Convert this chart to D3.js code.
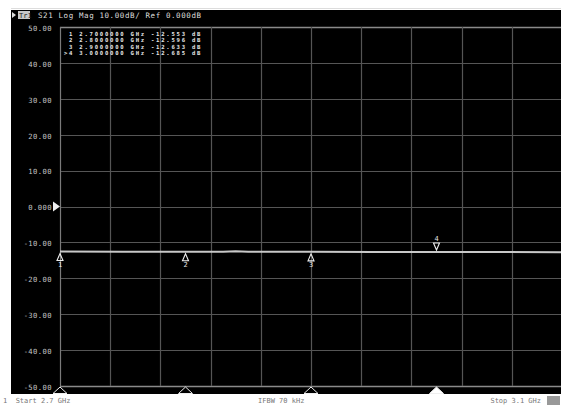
<!DOCTYPE html>
<html>
<head>
<meta charset="utf-8">
<script src="https://cdn.jsdelivr.net/npm/d3@7"></script>
<style>
  html, body { margin: 0; padding: 0; background: #fff; overflow: hidden; }
  svg { display: block; }
  text { font-family: "DejaVu Sans Mono", monospace; }
</style>
</head>
<body>
<div id="chart"></div>
<script>
// trace S21 (GHz, dB)
var traceFreq = [2.7, 2.75, 2.8, 2.83, 2.84, 2.85, 2.9, 2.95, 3.0, 3.05, 3.1];
var traceDb = [-12.553, -12.57, -12.596, -12.61, -12.45, -12.61, -12.633, -12.66, -12.685, -12.70, -12.72];

// markers
var markerIds = ["1", "2", "3", "4"];
var markerFreq = [2.7, 2.8, 2.9, 3.0];
var markerDb = [-12.553, -12.596, -12.633, -12.685];
var activeMarker = "4";

var yTicks = [50, 40, 30, 20, 10, 0, -10, -20, -30, -40, -50];
var yTickLabels = ["50.00", "40.00", "30.00", "20.00", "10.00", "0.000", "-10.00", "-20.00", "-30.00", "-40.00", "-50.00"];
var xTicks = [2.7, 2.74, 2.78, 2.82, 2.86, 2.9, 2.94, 2.98, 3.02, 3.06, 3.1];

var titleText = "S21 Log Mag 10.00dB/ Ref 0.000dB";
var statusLeft = "1  Start 2.7 GHz";
var statusMid = "IFBW 70 kHz";
var statusRight = "Stop 3.1 GHz";

var W = 561, H = 406;
var svg = d3.select("#chart").append("svg")
    .attr("width", W)
    .attr("height", H);

var x = d3.scaleLinear().domain([2.7, 3.1]).range([60, 562]);
var y = d3.scaleLinear().domain([-50, 50]).range([386, 27]);

// screen background
svg.append("rect").attr("x", 0).attr("y", 0).attr("width", W).attr("height", H).attr("fill", "#fff");
svg.append("line").attr("x1", 11).attr("x2", W).attr("y1", 8.5).attr("y2", 8.5)
    .attr("stroke", "#ddd").attr("stroke-width", 1);
svg.append("rect").attr("x", 11).attr("y", 10).attr("width", W - 11).attr("height", 384).attr("fill", "#000");

// title bar
svg.append("path").attr("d", "M12,12L16,15L12,18Z").attr("fill", "#ddd");
svg.append("rect").attr("x", 18).attr("y", 11).attr("width", 12).attr("height", 8).attr("fill", "#c8c8c8");
svg.append("text").attr("x", 19).attr("y", 18).attr("font-size", 7).attr("fill", "#222").text("Tr1");
svg.append("text").attr("x", 38).attr("y", 18).attr("font-size", 7.5)
    .attr("letter-spacing", 0.6).attr("fill", "#ddd").text(titleText);

// grid
var grid = svg.append("g");
grid.selectAll("line.h").data(yTicks).enter().append("line")
    .attr("x1", 60).attr("x2", W)
    .attr("y1", function(d){ return Math.round(y(d)) + 0.5; })
    .attr("y2", function(d){ return Math.round(y(d)) + 0.5; })
    .attr("stroke", function(d){ return (d === 50 || d === -50) ? "#8a8a8a" : "#555"; })
    .attr("stroke-width", function(d){ return (d === 50 || d === -50) ? 1.6 : 1.2; });
grid.selectAll("line.v").data(xTicks).enter().append("line")
    .attr("x1", function(d){ return Math.round(x(d)) + 0.5; })
    .attr("x2", function(d){ return Math.round(x(d)) + 0.5; })
    .attr("y1", 27).attr("y2", 386)
    .attr("stroke", function(d, i){ return i === 0 ? "#7a7a7a" : "#555"; })
    .attr("stroke-width", 1.2);

// y axis labels
var yAxis = d3.axisLeft(y).tickValues(yTicks).tickSize(0).tickPadding(0)
    .tickFormat(function(d, i){ return yTickLabels[i]; });
var ya = svg.append("g").attr("transform", "translate(52,1)").call(yAxis);
ya.select(".domain").remove();
ya.selectAll("text").attr("font-family", "DejaVu Sans Mono, monospace")
    .attr("font-size", 7.2).attr("letter-spacing", 0.4).attr("fill", "#c4c4c4");

// reference pointer at 0 dB
svg.append("path")
    .attr("d", "M53," + (y(0) - 5) + "L60," + y(0) + "L53," + (y(0) + 5) + "Z")
    .attr("fill", "#eee");

// marker table
var table = svg.append("g");
table.selectAll("text").data(markerIds).enter().append("text")
    .attr("x", 64)
    .attr("y", function(d, i){ return 35.5 + i * 6.6; })
    .attr("font-size", 5.6).attr("letter-spacing", 1.75).attr("fill", "#e6e6e6")
    .attr("font-weight", "bold")
    .attr("xml:space", "preserve")
    .text(function(d, i){
        var pre = d === activeMarker ? ">" + d : " " + d;
        return pre + " " + markerFreq[i].toFixed(7) + " GHz " + markerDb[i].toFixed(3) + " dB";
    });

// trace
var line = d3.line()
    .x(function(d, i){ return x(traceFreq[i]); })
    .y(function(d){ return y(d); });
svg.append("path").datum(traceDb)
    .attr("d", line)
    .attr("fill", "none").attr("stroke", "#c8c8c8").attr("stroke-width", 2);

// markers on the trace
var mk = svg.append("g").selectAll("g").data(markerIds).enter().append("g")
    .attr("transform", function(d, i){ return "translate(" + x(markerFreq[i]) + "," + y(markerDb[i]) + ")"; });
mk.append("path")
    .attr("d", function(d){ return d === activeMarker ? "M-3,-9L3,-9L0,-2Z" : "M0,2L3,9L-3,9Z"; })
    .attr("fill", "none").attr("stroke", "#eee").attr("stroke-width", 1.1);
mk.append("text")
    .attr("y", function(d){ return d === activeMarker ? -11 : 15; })
    .attr("text-anchor", "middle").attr("font-size", 7).attr("fill", "#e6e6e6")
    .text(function(d){ return d; });

// markers on the bottom border
svg.append("g").selectAll("path").data(markerIds).enter().append("path")
    .attr("transform", function(d, i){ return "translate(" + x(markerFreq[i]) + ",386)"; })
    .attr("d", "M0,1L7,7.5L-7,7.5Z")
    .attr("fill", function(d){ return d === activeMarker ? "#fff" : "none"; })
    .attr("stroke", "#eee").attr("stroke-width", 1);

// status line
var statusBar = svg.append("g").attr("font-size", 7).attr("fill", "#777");
statusBar.append("text").attr("x", 3).attr("y", 403).attr("font-family", "Liberation Sans, sans-serif")
    .attr("xml:space", "preserve").text(statusLeft);
statusBar.append("text").attr("x", 258).attr("y", 403).attr("font-family", "Liberation Sans, sans-serif").text(statusMid);
statusBar.append("text").attr("x", 541).attr("y", 403).attr("text-anchor", "end")
    .attr("font-family", "Liberation Sans, sans-serif").text(statusRight);
svg.append("rect").attr("x", 547).attr("y", 396).attr("width", 13).attr("height", 9).attr("fill", "#999");
</script>
</body>
</html>
